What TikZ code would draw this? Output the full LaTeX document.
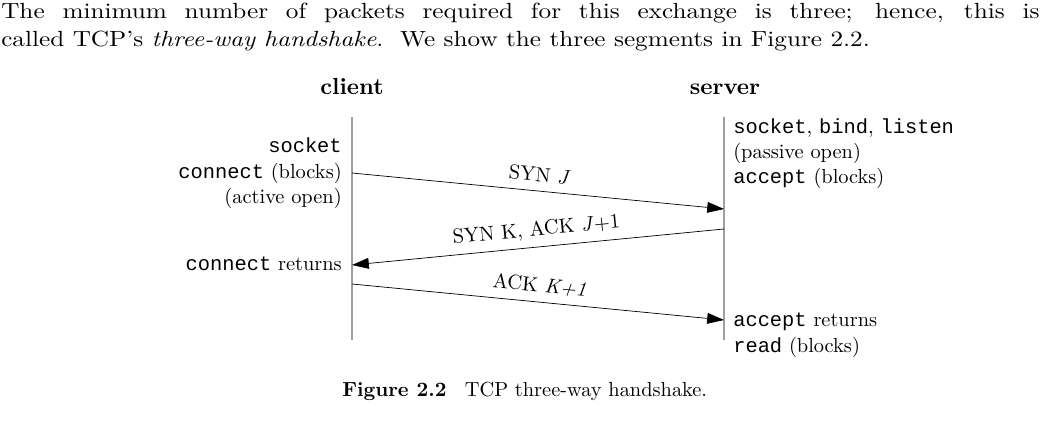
\documentclass[tikz,border=0pt]{standalone}
\usepackage{fontspec}
\setmainfont{lmroman10}[Extension=.otf, UprightFont=*-regular, BoldFont=*-bold,
  ItalicFont=*-italic, BoldItalicFont=*-bolditalic]
\setmonofont{Liberation Mono}
\usetikzlibrary{arrows.meta, positioning}
\tikzstyle{life}=[draw=gray!75, line width=1.1pt]
\tikzstyle{msg}=[-{Triangle[length=0.42cm,width=0.27cm]}, line width=0.5pt]
\tikzstyle{lbl}=[inner sep=0pt, font=\fontsize{14.5pt}{18pt}\selectfont]
\tikzstyle{head}=[inner sep=0pt, font=\fontsize{16.5pt}{18pt}\selectfont\bfseries]

\begin{document}
\begin{tikzpicture}[x=0.025cm, y=-0.025cm]
		\useasboundingbox (0,0) rectangle (1056,420);
		\node[inner sep=0pt, anchor=base west, text width=25.95cm, align=justify,
		      font=\fontsize{15.6pt}{19.3pt}\selectfont\addfontfeature{FakeStretch=1.15}] (para) at (1,19)
		     {The minimum number of packets required for this exchange is three; hence, this is\linebreak
		      called TCP's \textit{three-way handshake}.\ \ We show the three segments in Figure~2.2.};
		\node[head, anchor=base] (client) at (352,95) {client};
		\node[head, anchor=base] (server) at (725,95) {server};
		\coordinate (ctop) at (352,117);
		\coordinate (cbot) at (352,340);
		\coordinate (stop) at (724,117);
		\coordinate (sbot) at (724,340);
		\draw[life] (ctop) -- (cbot);
		\draw[life] (stop) -- (sbot);
		\node[lbl, anchor=base east] (csock) at (342,152) {\texttt{socket}};
		\node[lbl, anchor=base east] (cconn) at (342,178) {\texttt{connect} (blocks)};
		\node[lbl, anchor=base east] (cact) at (342,203) {(active open)};
		\node[lbl, anchor=base east] (cret) at (342,270) {\texttt{connect} returns};
		\node[lbl, anchor=base west] (ssock) at (733,133) {\texttt{socket}, \texttt{bind}, \texttt{listen}};
		\node[lbl, anchor=base west] (spas) at (733,158) {(passive open)};
		\node[lbl, anchor=base west] (sacc) at (733,183) {\texttt{accept} (blocks)};
		\node[lbl, anchor=base west] (sret) at (733,326) {\texttt{accept} returns};
		\node[lbl, anchor=base west] (sread) at (733,352) {\texttt{read} (blocks)};
		\coordinate (c1) at (352,173);
		\coordinate (s1) at (724,209);
		\coordinate (s2) at (724,229);
		\coordinate (c2) at (352,265);
		\coordinate (c3) at (352,284);
		\coordinate (s3) at (724,320);
		\draw[msg] (c1) -- node[lbl, sloped, above=6pt] (syn) {SYN \textit{J}} (s1);
		\draw[msg] (s2) -- node[lbl, sloped, above=5pt] (synack) {SYN K, ACK \textit{J}+1} (c2);
		\draw[msg] (c3) -- node[lbl, sloped, above=6pt] (ack) {ACK \textit{K+1}} (s3);
		\node[lbl, anchor=base west] (cap) at (342,396) {\textbf{Figure 2.2}\hspace{0.9em}TCP three-way handshake.};
		\end{tikzpicture}
\end{document}
